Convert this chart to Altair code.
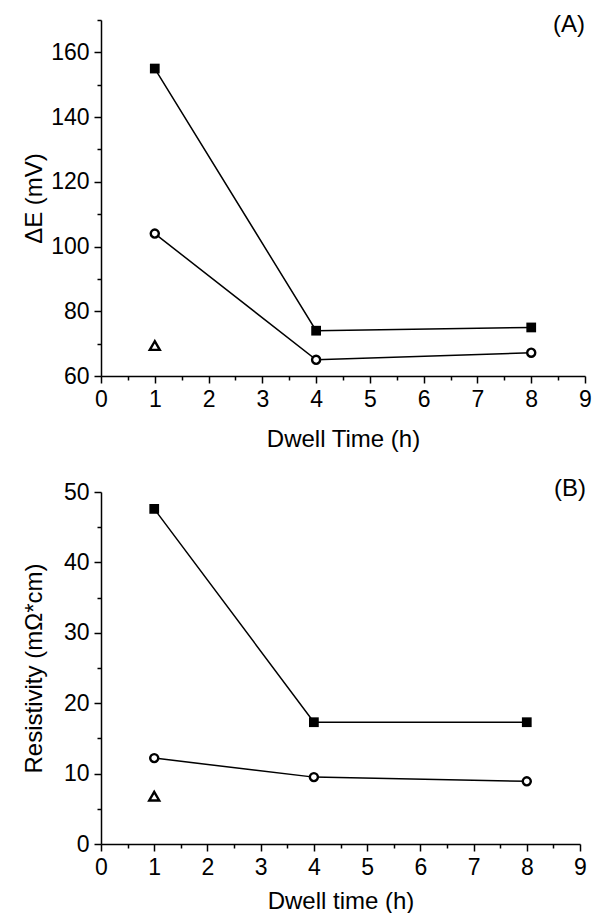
import altair as alt
import pandas as pd

# ---- data ----
dwell = [1, 4, 8]
dE_square = [155, 74, 75]
dE_circle = [104, 65, 67.2]
dE_triangle_x = [1]
dE_triangle = [69.4]

res_square = [47.6, 17.3, 17.3]
res_circle = [12.2, 9.5, 8.9]
res_triangle_x = [1]
res_triangle = [6.8]

x_major = [0, 1, 2, 3, 4, 5, 6, 7, 8, 9]
x_minor = [0.5, 1.5, 2.5, 3.5, 4.5, 5.5, 6.5, 7.5, 8.5]
yA_major = [60, 80, 100, 120, 140, 160]
yA_minor = [70, 90, 110, 130, 150, 170]
yB_major = [0, 10, 20, 30, 40, 50]
yB_minor = [5, 15, 25, 35, 45]

FONT = "Liberation Sans"


def panel(sq, ci, tri_x, tri, ydom, ymaj, ymin, ytitle, xtitle, label,
          w, h, lab_x, lab_y, xtp):
    df = pd.DataFrame(
        {"x": dwell + dwell, "y": sq + ci,
         "s": ["sq"] * len(sq) + ["ci"] * len(ci)})
    dtri = pd.DataFrame({"x": tri_x, "y": tri})
    xs = alt.Scale(domain=[0, 9], nice=False, zero=False)
    ys = alt.Scale(domain=ydom, nice=False, zero=False)
    common = dict(grid=False, domainColor="black", tickColor="black",
                  labelColor="black", titleColor="black", domainWidth=1.5,
                  tickWidth=1.5, labelFont=FONT, titleFont=FONT,
                  labelFontSize=23, titleFontSize=24,
                  titleFontWeight="normal", labelFlush=False)
    xax = alt.Axis(values=x_major, format="d", tickSize=7, labelPadding=5,
                   title=xtitle, titlePadding=xtp, orient="bottom", **common)
    yax = alt.Axis(values=ymaj, format="d", tickSize=7, labelPadding=5,
                   title=ytitle, titlePadding=5, minExtent=50, maxExtent=50,
                   orient="left", **common)
    X = alt.X("x:Q", scale=xs, axis=xax)
    Y = alt.Y("y:Q", scale=ys, axis=yax)

    lines = alt.Chart(df).mark_line(color="black", strokeWidth=1.5).encode(
        x=X, y=Y, detail="s:N")
    squares = alt.Chart(df).transform_filter("datum.s == 'sq'").mark_point(
        shape="square", filled=True, color="black", size=95, opacity=1
    ).encode(x=X, y=Y)
    circles = alt.Chart(df).transform_filter("datum.s == 'ci'").mark_point(
        shape="circle", filled=True, fill="white", stroke="black",
        strokeWidth=2.4, size=65, opacity=1
    ).encode(x=X, y=Y)
    tris = alt.Chart(dtri).mark_point(
        shape="triangle-up", filled=True, fill="white", stroke="black",
        strokeWidth=2.4, size=100, opacity=1
    ).encode(x=X, y=Y)
    txt = alt.Chart(pd.DataFrame({"t": [label]})).mark_text(
        font=FONT, fontSize=24, color="black", align="center",
        baseline="middle"
    ).encode(x=alt.value(lab_x), y=alt.value(lab_y), text="t:N")

    main = alt.layer(lines, squares, circles, tris, txt)

    xmin_ax = alt.Axis(values=x_minor, labels=False, title=None, domain=False,
                       tickSize=4, tickWidth=1.5, tickColor="black",
                       grid=False, orient="bottom")
    ymin_ax = alt.Axis(values=ymin, labels=False, title=None, domain=False,
                       tickSize=4, tickWidth=1.5, tickColor="black",
                       grid=False, orient="left")
    minor = alt.Chart(df).mark_point(opacity=0).encode(
        x=alt.X("x:Q", scale=xs, axis=xmin_ax),
        y=alt.Y("y:Q", scale=ys, axis=ymin_ax))

    return alt.layer(main, minor).resolve_axis(
        x="independent", y="independent").properties(width=w, height=h)


pA = panel(dE_square, dE_circle, dE_triangle_x, dE_triangle, [60, 170],
           yA_major, yA_minor, "ΔE (mV)", "Dwell Time (h)", "(A)",
           484, 356, 468, 5, 16)
pB = panel(res_square, res_circle, res_triangle_x, res_triangle, [0, 50],
           yB_major, yB_minor, "Resistivity (mΩ*cm)", "Dwell time (h)", "(B)",
           479, 352, 469, -3, 10)

chart = alt.vconcat(pA, pB, spacing=26).properties(
    padding={"left": 22, "top": 13, "right": 0, "bottom": 0},
    background="white"
).configure_view(stroke=None)

chart.save("out.html", embed_options={"renderer": "svg", "actions": False})
